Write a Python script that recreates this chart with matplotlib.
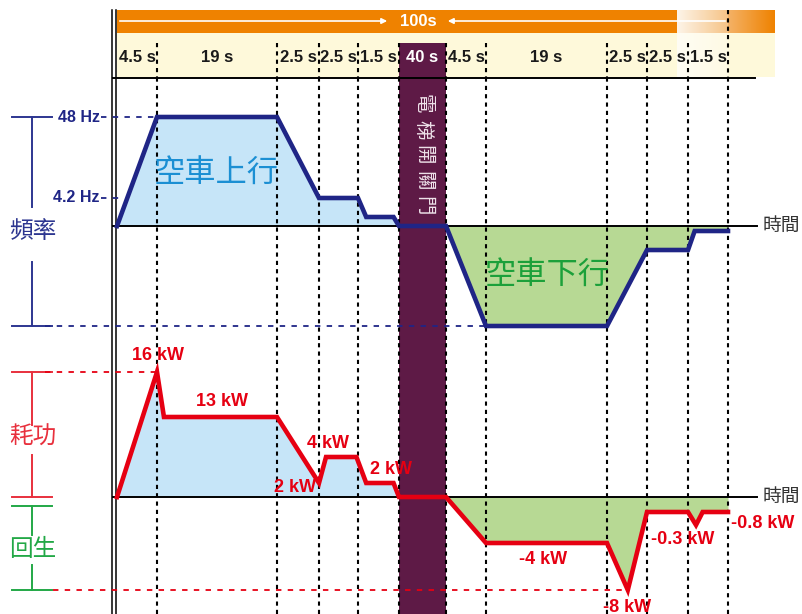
import numpy as np
import matplotlib.pyplot as plt
import matplotlib.colors as mcolors
from matplotlib.patches import Rectangle

plt.rcParams['font.family'] = ['Liberation Sans', 'Noto Sans CJK TC', 'DejaVu Sans']

# phase durations (s) for one up + down trip
durations = [4.5, 19, 2.5, 2.5, 1.5, 40, 4.5, 19, 2.5, 2.5, 1.5]
dur_labels = ['4.5 s', '19 s', '2.5 s', '2.5 s', '1.5 s', '40 s',
              '4.5 s', '19 s', '2.5 s', '2.5 s', '1.5 s']
total_label = '100s'

# inverter output frequency (Hz)
freq_t = [0, 4.5, 23.5, 26, 28.5, 28.8, 29.8, 30, 70, 74.5, 93.5, 96, 98.5, 98.75, 100]
freq_hz = [0, 48, 48, 4.2, 4.2, 1.5, 1.5, 0, 0, -48, -48, -4.2, -4.2, -1.5, -1.5]

# power (kW): positive = consumed, negative = regenerated
power_t = [0, 4.5, 5.6, 23.5, 26, 26.45, 28.4, 28.8, 29.8, 30, 70, 74.5, 93.5, 94.8, 96,
           98.5, 98.8, 99.05, 100]
power_kw = [0, 16, 13, 13, 2, 4, 4, 2, 2, 0, 0, -4, -4, -8, -0.3, -0.3, -0.8, -0.3, -0.3]

freq_marks = [48, 4.2]
freq_mark_labels = ['48 Hz', '4.2 Hz']
power_labels = ['16 kW', '13 kW', '4 kW', '2 kW', '2 kW', '-4 kW', '-8 kW', '-0.3 kW', '-0.8 kW']
power_label_pos = [(158, 356), (222, 401), (328, 443), (295, 487), (391, 470),
                   (543, 559), (627, 607), (683, 540), (763, 523)]

# layout: the diagram is schematic, not to scale
W, H = 803, 614
seg_px = [117, 157, 277, 319, 358, 399, 446, 486, 607, 647, 688, 728]
freq_rows = ([-48, -4.2, -1.5, 0, 1.5, 4.2, 48], [-100, -24, -5, 0, 9, 28, 109])
power_rows = ([-8, -4, -0.8, -0.3, 0, 2, 4, 13, 16], [-93, -46, -28, -15, 0, 14, 40, 80, 125])
freq_zero, power_zero, split = 226, 497, 340

NAVY = '#1f2586'
RED = '#e60012'
BLUE_FILL = '#c6e5f8'
GREEN_FILL = '#b7d994'
PURPLE = '#5e1a46'
ORANGE = '#ef8200'
CREAM = '#fef9da'


def piecewise(xp, fp):
    xp = np.asarray(xp, float)
    fp = np.asarray(fp, float)
    s0 = (fp[1] - fp[0]) / (xp[1] - xp[0])
    s1 = (fp[-1] - fp[-2]) / (xp[-1] - xp[-2])

    def f(v):
        v = np.asarray(v, float)
        out = np.interp(v, xp, fp)
        out = np.where(v < xp[0], fp[0] + (v - xp[0]) * s0, out)
        out = np.where(v > xp[-1], fp[-1] + (v - xp[-1]) * s1, out)
        return out
    return f


bounds_t = np.concatenate([[0], np.cumsum(durations)])
tx = piecewise(bounds_t, seg_px)
tx_inv = piecewise(seg_px, bounds_t)

fig = plt.figure(figsize=(W / 100, H / 100), dpi=100)
bg = fig.add_axes([0, 0, 1, 1])
bg.axis('off')


def make_axes(rows, zero, top, bottom):
    ax = fig.add_axes([0, 1 - bottom / H, 1, (bottom - top) / H])
    ax.set_xscale('function', functions=(tx, tx_inv))
    ax.set_xlim(float(tx_inv(0)), float(tx_inv(W)))
    fy, fy_inv = piecewise(*rows), piecewise(rows[1], rows[0])
    ax.set_yscale('function', functions=(fy, fy_inv))
    ax.set_ylim(float(fy_inv(zero - bottom)), float(fy_inv(zero - top)))
    ax.axis('off')
    return ax, fy


ax_f, fy_f = make_axes(freq_rows, freq_zero, 78, split)
ax_p, fy_p = make_axes(power_rows, power_zero, split, H)

# overlay for text, drawn last
ov = fig.add_axes([0, 0, 1, 1])
ov.axis('off')

# ---- header ----
bx = tx(bounds_t)
fade0, fade1, bar_end = 677, bx[-1], 775
grad = np.linspace(0, 1, 64)


def ramp(c0, c1):
    c0, c1 = np.array(mcolors.to_rgb(c0)), np.array(mcolors.to_rgb(c1))
    return (np.outer(1 - grad, c0) + np.outer(grad, c1))[None, :, :]


bg.add_patch(Rectangle((bx[0], 10), fade0 - bx[0], 23, color=ORANGE, lw=0))
bg.imshow(ramp('#fdf4e8', '#f6c487'), extent=(fade0, fade1, 33, 10), aspect='auto')
bg.imshow(ramp('#f4b266', ORANGE), extent=(fade1, bar_end, 33, 10), aspect='auto')
bg.add_patch(Rectangle((bx[0], 33), fade0 - bx[0], 44, color=CREAM, lw=0))
bg.imshow(ramp('#fffdf4', '#fefae4'), extent=(fade0, fade1, 77, 33), aspect='auto')
bg.add_patch(Rectangle((fade1, 33), bar_end - fade1, 44, color=CREAM, lw=0))

mid = 418
bg.annotate('', xy=(mid - 28, 21), xytext=(bx[0], 21),
            arrowprops=dict(arrowstyle='-|>', color='white', lw=1.2, mutation_scale=8))
bg.annotate('', xy=(mid + 27, 21), xytext=(bx[-1], 21),
            arrowprops=dict(arrowstyle='-|>', color='white', lw=1.2, mutation_scale=8))
ov.text(mid, 21, total_label, color='white', fontsize=12, fontweight='bold',
        ha='center', va='center')

# door open band
bg.add_patch(Rectangle((bx[5], 43), bx[6] - bx[5], H - 43, color=PURPLE, lw=0))
for i, ch in enumerate('電梯開關門'):
    ov.text((bx[5] + bx[6]) / 2, 104 + 25.5 * i, ch, rotation=270, color='#efe2ea',
            fontsize=14, ha='center', va='center')

for i, lab in enumerate(dur_labels):
    ov.text((bx[i] + bx[i + 1]) / 2, 58, lab, fontsize=12, fontweight='bold',
            color='white' if i == 5 else '#1a1a1a', ha='center', va='center')
for i, b in enumerate(bx[1:]):
    bg.plot([b, b], [10 if i == len(bx) - 2 else 43, 78], color='k', ls=(0, (2, 2)), lw=1.5)

bg.plot([113, 755], [77.5, 77.5], color='k', lw=1.4)
for x in (112.5, 116.5):
    bg.plot([x, x], [10, H], color='k', lw=1.1)

# ---- curves ----
for ax, t, v, line_col in ((ax_f, freq_t, freq_hz, NAVY), (ax_p, power_t, power_kw, RED)):
    t = np.array(t)
    v = np.array(v)
    ax.fill_between(t, v, 0, where=t <= 70, color=BLUE_FILL, lw=0, zorder=1)
    ax.fill_between(t, v, 0, where=t >= 70, color=GREEN_FILL, lw=0, zorder=1)
    for b in bounds_t[1:]:
        ax.axvline(b, color='k', ls=(0, (2, 2)), lw=1.5, zorder=2)
    ax.axhline(0, xmin=113 / W, xmax=757 / W, color='k', lw=1.4, zorder=2.5)
    ax.plot(t, v, color=line_col, lw=3.3, solid_joinstyle='miter', zorder=3)

# reference level lines
dash = (0, (3, 3.5))
ax_f.plot([float(tx_inv(101)), 4.5], [48, 48], color=NAVY, ls=dash, lw=1.3, zorder=2)
ax_f.plot([float(tx_inv(101)), float(tx_inv(123))], [4.2, 4.2], color=NAVY, ls=dash,
          lw=1.3, zorder=2)
ax_f.plot([float(tx_inv(45)), 74.5], [-48, -48], color=NAVY, ls=dash, lw=1.3, zorder=2)
ax_p.plot([float(tx_inv(45)), 4.5], [16, 16], color=RED, ls=dash, lw=1.3, zorder=2)
ax_p.plot([float(tx_inv(53)), 94.8], [-8, -8], color=RED, ls=dash, lw=1.3, zorder=2)

for val, lab in zip(freq_marks, freq_mark_labels):
    ov.text(100, freq_zero - float(fy_f(val)), lab, color=NAVY, fontsize=11.5,
            fontweight='bold', ha='right', va='center')

for lab, (x, y) in zip(power_labels, power_label_pos):
    ov.text(x, y, lab, color=RED, fontsize=13, fontweight='bold', ha='center', va='center')

ov.text(216, 175, '空車上行', color='#1b8fd3', fontsize=22.5, ha='center', va='center')
ov.text(547, 277, '空車下行', color='#1ca03a', fontsize=22.5, ha='center', va='center')
for row in (freq_zero, power_zero):
    ov.text(781, row, '時間', color='#333333', fontsize=13.5, ha='center', va='center')


# ---- side brackets ----
def bracket(top, bottom, label, label_row, gap_top, gap_bot, color):
    x = 32.5
    bg.plot([x, x], [top, label_row - gap_top], color=color, lw=1.4)
    bg.plot([x, x], [label_row + gap_bot, bottom], color=color, lw=1.4)
    bg.plot([12, 52], [top, top], color=color, lw=1.4)
    bg.plot([12, 52], [bottom, bottom], color=color, lw=1.4)
    ov.text(x, label_row, label, color=color, fontsize=17, ha='center', va='center')


f_top = freq_zero - float(fy_f(48))
f_bot = freq_zero - float(fy_f(-48))
p_top = power_zero - float(fy_p(16))
p_bot = power_zero - float(fy_p(-8))
bracket(f_top, f_bot, '頻率', 232, 25, 30, '#2d3690')
bracket(p_top, power_zero, '耗功', 438, 13, 17, '#e8303d')
bracket(power_zero + 9, p_bot, '回生', 550, 15, 15, '#22a846')

for a in (bg, ov):
    a.set_xlim(0, W)
    a.set_ylim(H, 0)

fig.savefig('out.png', dpi=100)
